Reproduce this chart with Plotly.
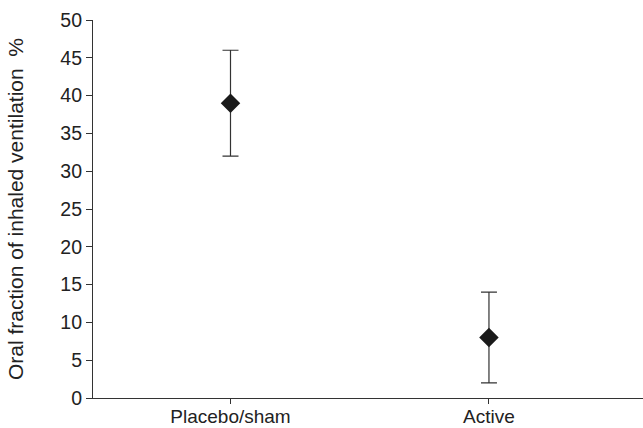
import plotly.graph_objects as go

categories = ["Placebo/sham", "Active"]
means = [39, 8]
upper = [46, 14]
lower = [32, 2]

err_plus = [u - m for u, m in zip(upper, means)]
err_minus = [m - l for m, l in zip(means, lower)]

fig = go.Figure()
fig.add_trace(go.Scatter(
    x=[0, 1], y=means, mode="markers",
    marker=dict(symbol="diamond", size=15, color="#1a1a1a"),
    error_y=dict(type="data", array=err_plus, arrayminus=err_minus,
                 color="#333333", thickness=1.2, width=8),
    showlegend=False,
))

font = "Liberation Sans, Arial, sans-serif"
fig.update_layout(
    width=643, height=428,
    margin=dict(l=93, r=0, t=20, b=30),
    plot_bgcolor="white", paper_bgcolor="white",
    font=dict(family=font, size=19, color="#222222"),
    xaxis=dict(
        range=[-0.532, 1.596], tickvals=[0, 1], ticktext=categories,
        showgrid=False, zeroline=False, showline=True, linecolor="#333333",
        linewidth=1.2, ticks="outside", ticklen=5, tickcolor="#333333",
        tickfont=dict(size=19), automargin=False, ticklabelstandoff=-4,
    ),
    yaxis=dict(
        range=[0, 50], tickvals=list(range(0, 51, 5)),
        showgrid=False, zeroline=False, showline=True, linecolor="#333333",
        linewidth=1.2, ticks="outside", ticklen=6, tickcolor="#333333",
        tickfont=dict(size=19.5), automargin=False,
        title=dict(text="Oral fraction of inhaled ventilation  %", font=dict(size=21), standoff=30),
    ),
)
fig.write_html("out.html")
